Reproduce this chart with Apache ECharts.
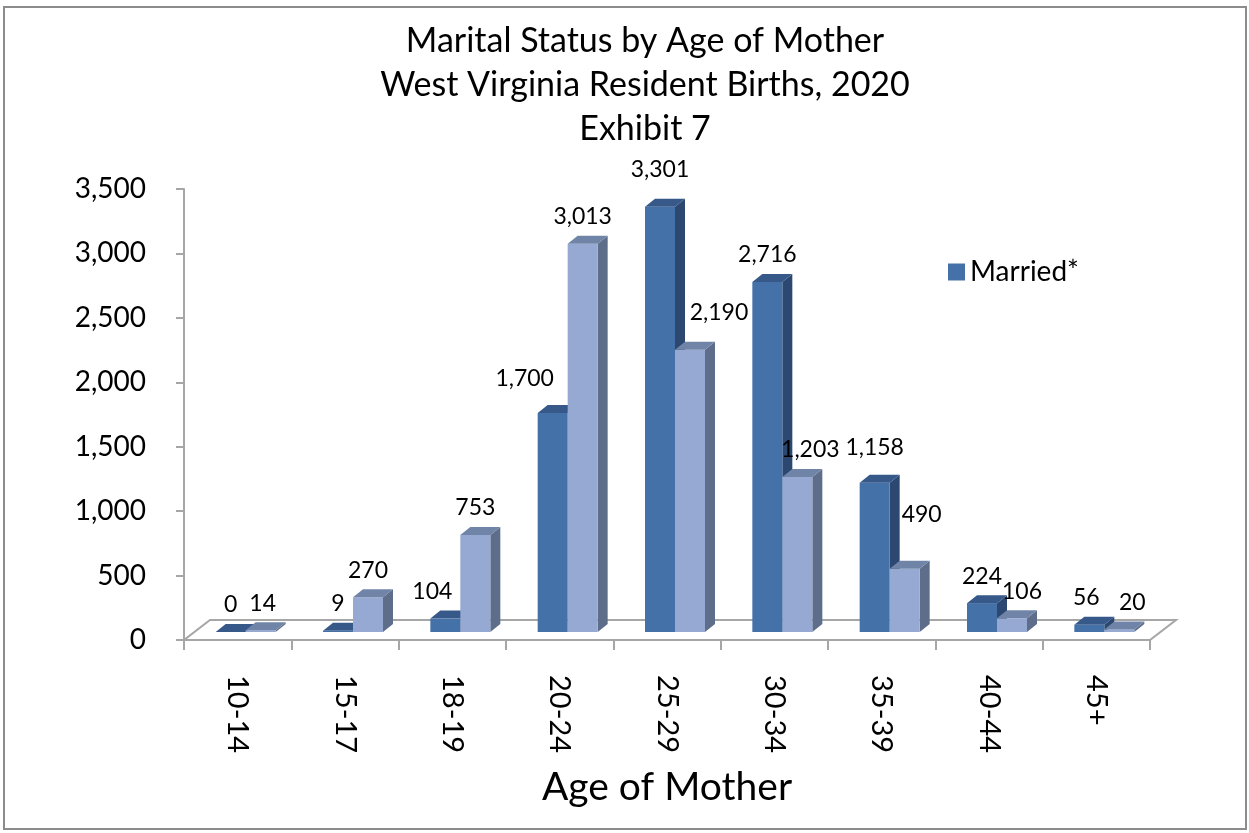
<!DOCTYPE html>
<html>
<head>
<meta charset="utf-8">
<script src="https://cdn.jsdelivr.net/npm/echarts@6/dist/echarts.min.js"></script>
<style>
  html, body { margin: 0; padding: 0; background: #fff; }
  #chart { width: 1249px; height: 833px; }
</style>
</head>
<body>
<div id="chart"></div>
<script>
const categories = ['10-14', '15-17', '18-19', '20-24', '25-29', '30-34', '35-39', '40-44', '45+']
const married = [0, 9, 104, 1700, 3301, 2716, 1158, 224, 56]
const unmarried = [14, 270, 753, 3013, 2190, 1203, 490, 106, 20]
const yMax = 3500
const yStep = 500

// label nudges [dx, dy] to mimic where Excel dropped some of the value labels
const marriedNudge = [[0, 0], [0, 0], [-13, 0], [-28, -7], [0, -10], [0, 0], [0, -8], [0, 0], [-3, 0]]
const unmarriedNudge = [[2, 0], [0, 0], [0, 0], [0, 0], [29, -10], [13, 0], [17, -27], [10, 0], [13, 0]]

const FONT = 'Lato, Carlito, "Open Sans", sans-serif'
const fmt = v => v.toLocaleString('en-US')

const chart = echarts.init(document.getElementById('chart'))

const barRenderer = (offset, colors, nudges) => (params, api) => {
  const idx = api.value(0)
  const val = api.value(1)
  const top = api.coord([idx, val])
  const base = api.coord([idx, 0])
  const w = 30, dx = 10, dy = 8
  const x0 = base[0] + offset
  const yb = base[1] - 8
  const yt = top[1] - 8
  const n = nudges[params.dataIndex] || [0, 0]
  return {
    type: 'group',
    children: [
      {
        type: 'polygon',
        shape: { points: [[x0 + w, yt], [x0 + w + dx, yt - dy], [x0 + w + dx, yb - dy], [x0 + w, yb]] },
        style: { fill: colors.side }
      },
      {
        type: 'rect',
        shape: { x: x0, y: yt, width: w, height: Math.max(yb - yt, 0) },
        style: { fill: colors.front }
      },
      {
        type: 'polygon',
        shape: { points: [[x0, yt], [x0 + w, yt], [x0 + w + dx, yt - dy], [x0 + dx, yt - dy]] },
        style: { fill: colors.top }
      },
      {
        type: 'text',
        z2: 10,
        style: {
          text: fmt(val),
          x: x0 + w / 2 + n[0],
          y: yt - 27 + n[1],
          align: 'center',
          verticalAlign: 'middle',
          fontSize: 23,
          fontFamily: FONT,
          fill: '#000'
        }
      }
    ]
  }
}

const option = {
  animation: false,
  backgroundColor: '#fff',
  graphic: [
    {
      type: 'rect',
      shape: { x: 4, y: 7, width: 1242, height: 822 },
      style: { fill: 'none', stroke: '#8c8c8c', lineWidth: 2 },
      silent: true
    }
  ],
  title: {
    text: 'Marital Status by Age of Mother\nWest Virginia Resident Births, 2020\nExhibit 7',
    left: 640,
    top: 14,
    textAlign: 'center',
    textStyle: { fontFamily: FONT, fontSize: 34, fontWeight: 'normal', lineHeight: 44, color: '#000' }
  },
  legend: {
    data: ['Married*'],
    left: 943,
    top: 253,
    icon: 'rect',
    itemWidth: 17,
    itemHeight: 17,
    textStyle: { fontFamily: FONT, fontSize: 28, color: '#000' }
  },
  grid: { left: 184, right: 99, top: 189, bottom: 193 },
  xAxis: {
    type: 'category',
    data: categories,
    name: 'Age of Mother',
    nameLocation: 'middle',
    nameGap: 128,
    nameTextStyle: { fontFamily: FONT, fontSize: 39, color: '#000' },
    axisLine: { show: true, lineStyle: { color: '#a6a6a6', width: 2 } },
    axisTick: { show: true, length: 10, interval: 0, lineStyle: { color: '#a6a6a6', width: 2 } },
    axisLabel: { rotate: -90, margin: 35, interval: 0, fontFamily: FONT, fontSize: 29, color: '#000' }
  },
  yAxis: {
    type: 'value',
    min: 0,
    max: yMax,
    interval: yStep,
    axisLine: { show: true, lineStyle: { color: '#a6a6a6', width: 2 } },
    axisTick: { show: true, length: 8, lineStyle: { color: '#a6a6a6', width: 2 } },
    splitLine: { show: false },
    axisLabel: { margin: 38, fontFamily: FONT, fontSize: 28, color: '#000', formatter: v => fmt(v) }
  },
  series: [
    {
      name: 'floor',
      type: 'custom',
      silent: true,
      data: [[0, 0]],
      renderItem: (params) => {
        const c = params.coordSys
        const yf = c.y + c.height
        return {
          type: 'polygon',
          shape: { points: [[c.x, yf], [c.x + c.width, yf], [c.x + c.width + 26, yf - 20], [c.x + 26, yf - 20]] },
          style: { fill: '#fff', stroke: '#a6a6a6', lineWidth: 2 }
        }
      }
    },
    {
      name: 'Married*',
      type: 'custom',
      itemStyle: { color: '#4472a8' },
      data: married.map((v, i) => [i, v]),
      renderItem: barRenderer(-22, { front: '#4472a8', top: '#36598a', side: '#2d4870' }, marriedNudge)
    },
    {
      name: 'Unmarried',
      type: 'custom',
      itemStyle: { color: '#95a9d3' },
      data: unmarried.map((v, i) => [i, v]),
      renderItem: barRenderer(8, { front: '#95a9d3', top: '#7084a8', side: '#5e6d8a' }, unmarriedNudge)
    }
  ]
}

chart.setOption(option)
</script>
</body>
</html>
